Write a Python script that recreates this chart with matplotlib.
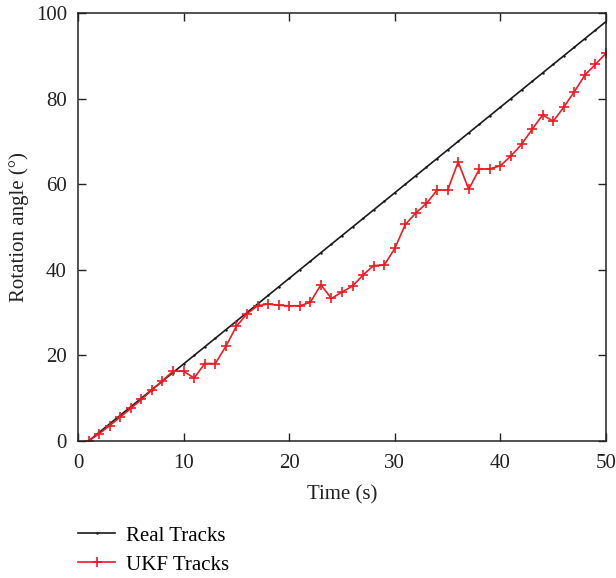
import matplotlib
matplotlib.use("Agg")
import matplotlib.pyplot as plt

time_s = list(range(1, 51))
real_tracks = [0, 2, 4, 6, 8, 10, 12, 14, 16, 18,
               20, 22, 24, 26, 28, 30, 32, 34, 36, 38,
               40, 42, 44, 46, 48, 50, 52, 54, 56, 58,
               60, 62, 64, 66, 68, 70, 72, 74, 76, 78,
               80, 82, 84, 86, 88, 90, 92, 94, 96, 98]
ukf_tracks = [0.0, 1.7, 3.6, 5.6, 7.6, 9.7, 11.9, 14.1, 16.3, 16.3,
              14.7, 18.1, 18.1, 22.1, 26.8, 29.7, 31.6, 32.0, 31.7, 31.6,
              31.6, 32.4, 36.5, 33.3, 34.8, 36.2, 38.8, 41.0, 41.1, 45.0,
              50.6, 53.3, 55.5, 58.6, 58.6, 65.2, 58.8, 63.5, 63.6, 64.3,
              66.6, 69.3, 72.8, 76.2, 74.7, 78.0, 81.6, 85.5, 88.0, 90.6]
x_ticks = [0, 10, 20, 30, 40, 50]
y_ticks = [0, 20, 40, 60, 80, 100]

plt.rcParams['font.family'] = ['Liberation Serif', 'DejaVu Serif']

fig = plt.figure(figsize=(6.16, 5.78), dpi=100)
ax = fig.add_axes([78/616, 1-441/578, (606-78)/616, (441-13)/578])

red = '#ec1c24'
l1, = ax.plot(time_s, real_tracks, color='#1a1a1a', lw=1.2, marker='.', markersize=1.5,
              label='Real Tracks')
l2, = ax.plot(time_s, ukf_tracks, color=red, lw=1.2, marker='+', markersize=7,
              markeredgewidth=1.2, label='UKF Tracks')

ax.set_xlim(0, 50)
ax.set_ylim(0, 100)
ax.set_xticks(x_ticks)
ax.set_yticks(y_ticks)
ax.tick_params(direction='in', top=True, right=True, length=6, width=1,
               labelsize=15, colors='#222222', pad=8)
ax.tick_params(axis='x', pad=9)
for s in ax.spines.values():
    s.set_linewidth(1.1)
    s.set_color('#222222')
ax.set_xlabel('Time (s)', fontsize=15, color='#222222', labelpad=9)
ax.set_ylabel('Rotation angle (°)', fontsize=15, color='#222222', labelpad=5)

fig.legend(handles=[l1, l2], loc='upper left', bbox_to_anchor=(78/616, 1 - 526/578),
           frameon=False, fontsize=15, handlelength=1.8, labelspacing=0.45,
           handletextpad=0.5, borderaxespad=0, borderpad=0)

fig.savefig('out.png', dpi=100)
